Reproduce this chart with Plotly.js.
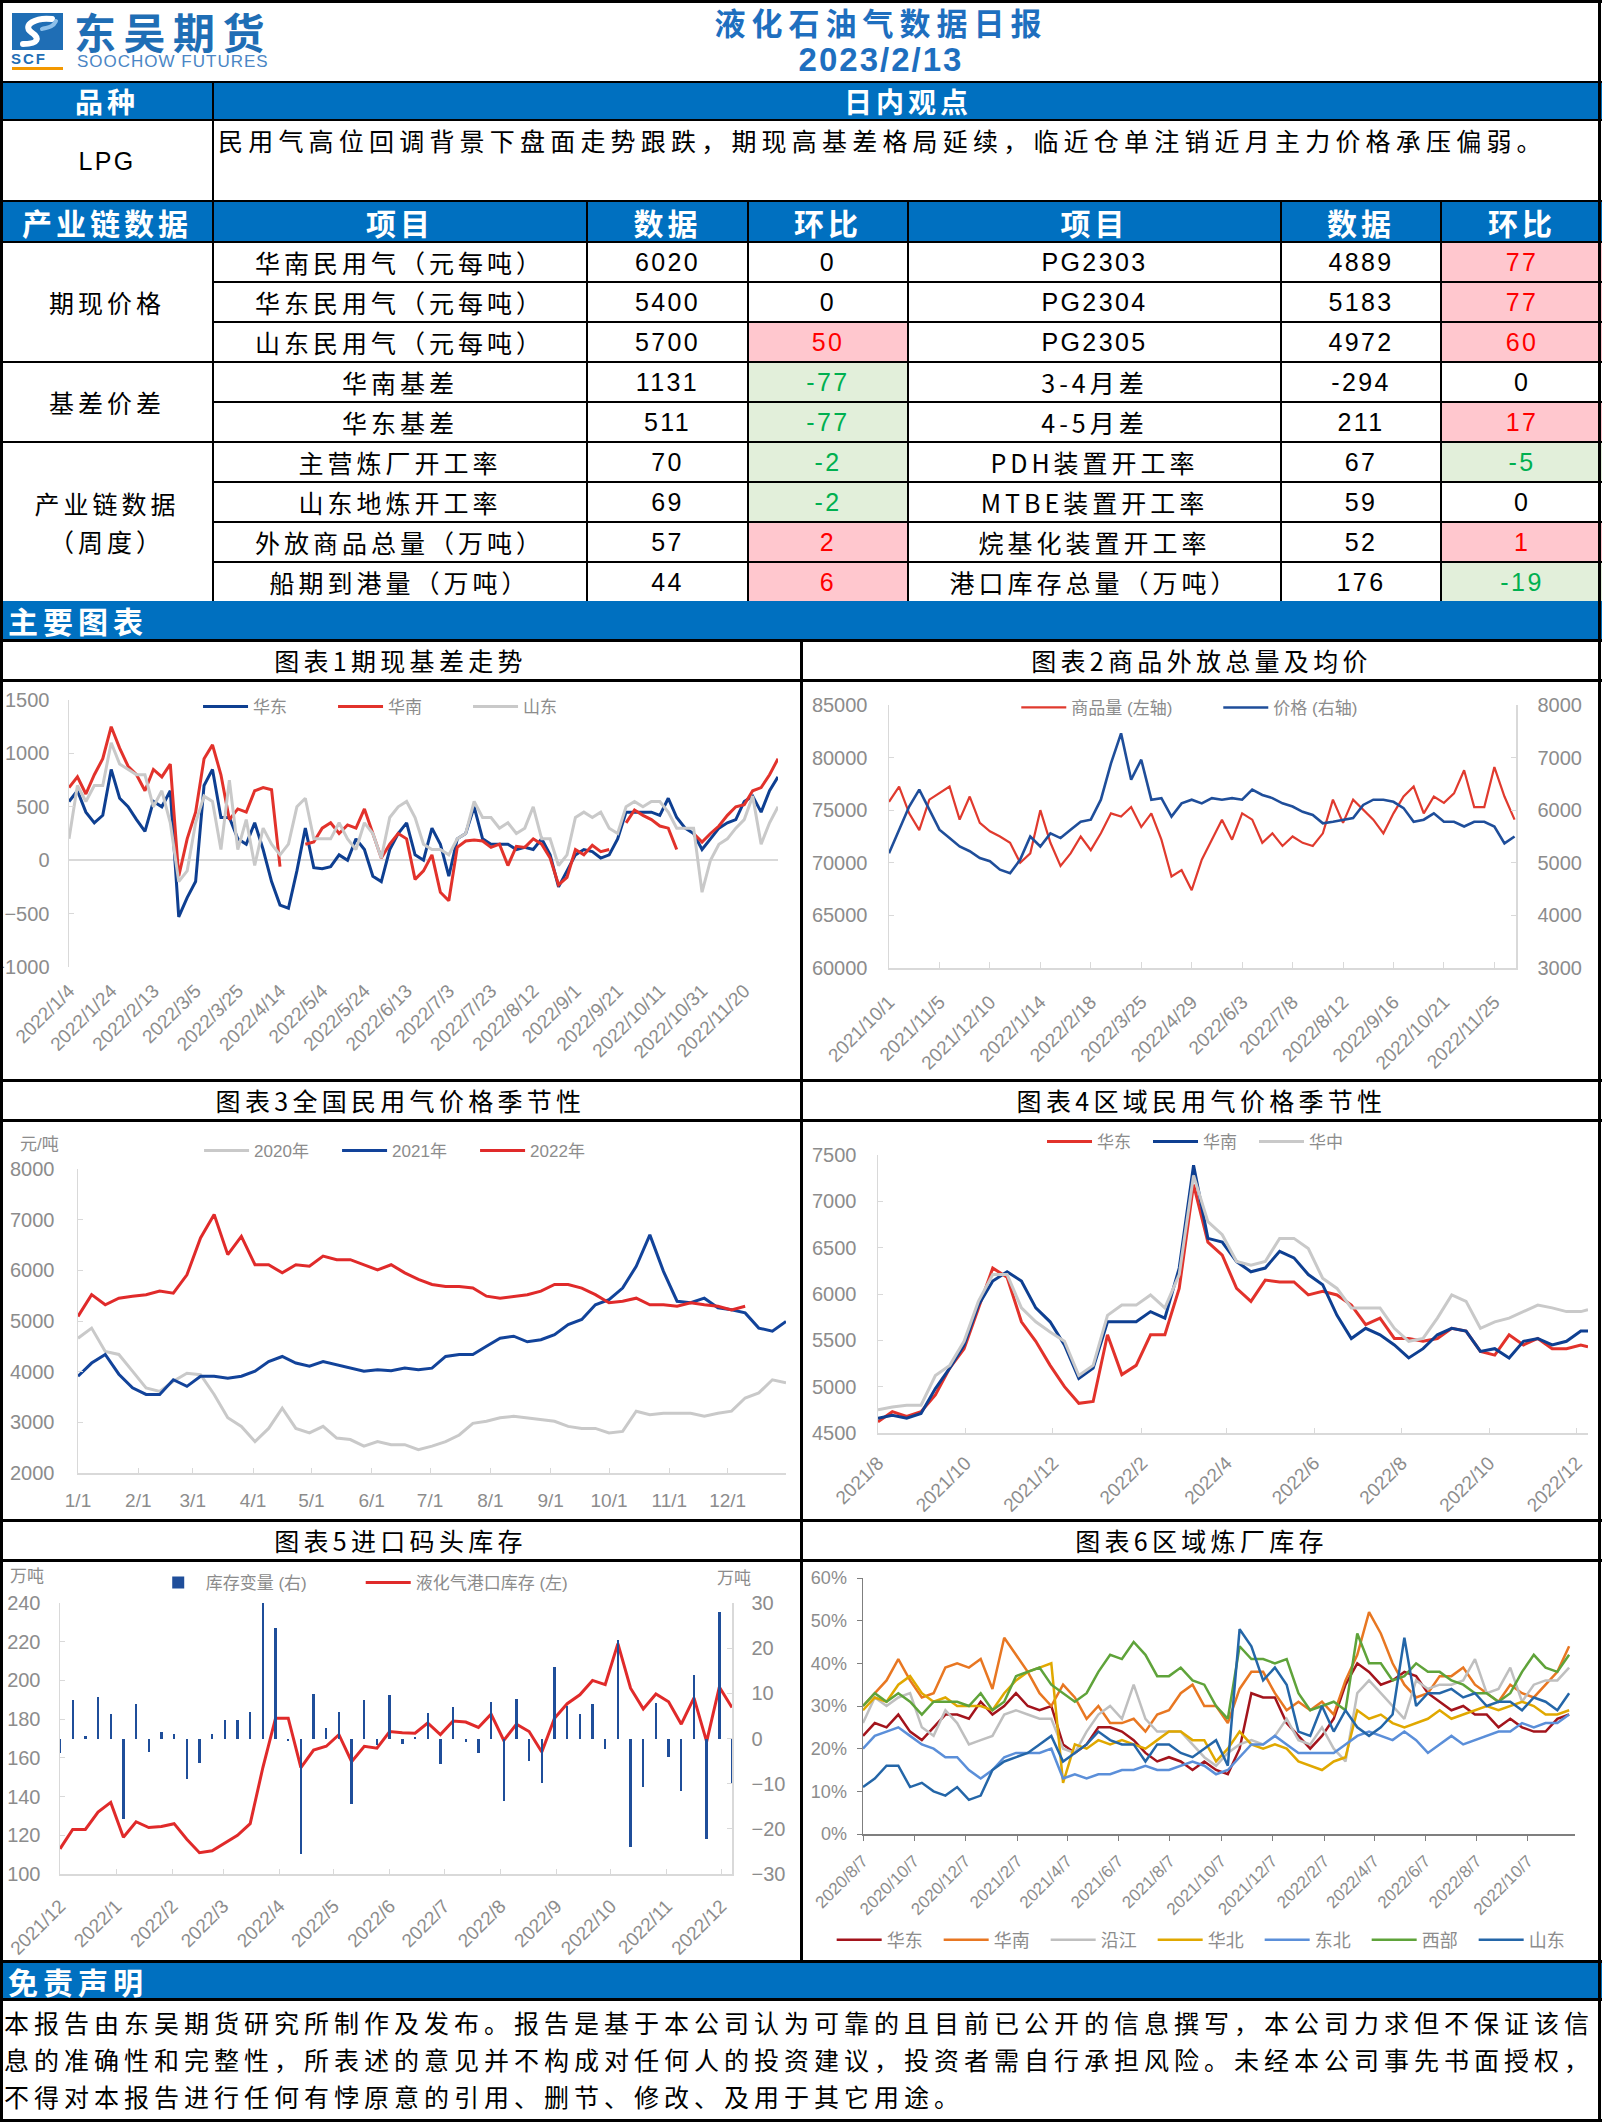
<!DOCTYPE html>
<html>
<head>
<meta charset="utf-8">
<script src="https://cdn.plot.ly/plotly-3.0.1.min.js"></script>
<style>
html,body{margin:0;padding:0;background:#fff;}
#page{position:relative;width:1602px;height:2122px;overflow:hidden;font-family:"Noto Sans CJK SC","Liberation Sans",sans-serif;color:#000;}
.a{position:absolute;box-sizing:border-box;}
.hl{position:absolute;left:0;width:1602px;height:3px;background:#000;z-index:5;}
.vl{position:absolute;width:3px;background:#000;z-index:5;}
.bar{position:absolute;left:0;width:1602px;background:#0070C0;color:#fff;font-weight:bold;font-size:30px;letter-spacing:5px;padding-left:8px;box-sizing:border-box;}
.ctitle{position:absolute;height:40px;line-height:40px;text-align:center;font-size:25px;letter-spacing:4.3px;}
.chart{position:absolute;}
#tbl{position:absolute;left:0;top:81px;width:1602px;border-collapse:collapse;table-layout:fixed;}
#tbl td{border:2px solid #000;padding:0;text-align:center;font-size:25px;letter-spacing:4px;overflow:hidden;white-space:nowrap;line-height:30px;}
#tbl tr.h td{background:#0070C0;color:#fff;font-weight:bold;font-size:30px;letter-spacing:4px;line-height:32px;}
#tbl tr.h0 td{background:#0070C0;color:#fff;font-weight:bold;font-size:28px;letter-spacing:4px;line-height:30px;}
#tbl td.num{font-family:"Liberation Sans",sans-serif;letter-spacing:2.4px;font-size:25px;}
.disc{position:absolute;left:4px;width:1594px;font-size:25px;letter-spacing:5px;white-space:nowrap;}
</style>
</head>
<body>
<div id="page">
  <!-- header -->
  <svg class="a" style="left:12px;top:13px" width="51" height="37" viewBox="0 0 51 37">
    <rect x="0" y="0" width="51" height="37" fill="#1F6EB5"/>
    <path d="M40 6 C24 4 10 12 19 19 C28 25 27 31 11 31" stroke="#fff" stroke-width="6" fill="none" stroke-linecap="round"/>
    <path d="M44 8 C40 16 34 14 30 16" stroke="#8EC0EA" stroke-width="4" fill="none" stroke-linecap="round"/>
  </svg>
  <div class="a" style="left:11px;top:51px;font-family:'Liberation Sans';font-weight:bold;font-size:15px;color:#1F6EB5;letter-spacing:2px;line-height:16px">SCF</div>
  <div class="a" style="left:12px;top:67px;width:51px;height:3px;background:#F39800"></div>
  <div class="a" style="left:74px;top:11px;font-size:42px;font-weight:bold;color:#1F6EB5;letter-spacing:7.5px;line-height:40px">东吴期货</div>
  <div class="a" style="left:77px;top:53px;font-family:'Liberation Sans';font-size:17px;color:#4A86C5;letter-spacing:1px;line-height:17px">SOOCHOW FUTURES</div>
  <div class="a" id="title" style="left:500px;width:762px;top:4px;text-align:center;font-size:31px;font-weight:bold;color:#1E6FBF;letter-spacing:6px;line-height:36px"></div>
  <div class="a" id="date" style="left:500px;width:762px;top:42px;text-align:center;font-family:'Liberation Sans';font-size:33px;font-weight:bold;color:#1E6FBF;letter-spacing:2px;line-height:36px"></div>

  <table id="tbl"></table>

  <div class="bar" style="top:601px;height:39px;line-height:39px">主要图表</div>
  <div class="ctitle" id="t1" style="left:0;width:801px;top:640px"></div>
  <div class="ctitle" id="t2" style="left:801px;width:801px;top:640px"></div>
  <div class="ctitle" id="t3" style="left:0;width:801px;top:1080px"></div>
  <div class="ctitle" id="t4" style="left:801px;width:801px;top:1080px"></div>
  <div class="ctitle" id="t5" style="left:0;width:801px;top:1520px"></div>
  <div class="ctitle" id="t6" style="left:801px;width:801px;top:1520px"></div>

  <div class="chart" id="c1" style="left:2px;top:680px"></div>
  <div class="chart" id="c2" style="left:802px;top:680px"></div>
  <div class="chart" id="c3" style="left:2px;top:1120px"></div>
  <div class="chart" id="c4" style="left:802px;top:1120px"></div>
  <div class="chart" id="c5" style="left:2px;top:1560px"></div>
  <div class="chart" id="c6" style="left:802px;top:1560px"></div>
  <div class="a" style="left:10px;top:1562px;font-size:17px;color:#8c8c8c">万吨</div>
  <div class="a" style="left:717px;top:1564px;font-size:17px;color:#8c8c8c">万吨</div>

  <div class="bar" style="top:1962px;height:38px;line-height:38px">免责声明</div>
  <div id="disc"></div>

  <!-- frame lines -->
  <div class="hl" style="top:0"></div>
  <div class="hl" style="top:639px"></div>
  <div class="hl" style="top:679px"></div>
  <div class="hl" style="top:1079px"></div>
  <div class="hl" style="top:1119px"></div>
  <div class="hl" style="top:1519px"></div>
  <div class="hl" style="top:1559px"></div>
  <div class="hl" style="top:1960px"></div>
  <div class="hl" style="top:1998px"></div>
  <div class="hl" style="top:2119px"></div>
  <div class="vl" style="left:0;top:0;height:2122px"></div>
  <div class="vl" style="left:1598px;top:0;height:2122px"></div>
  <div class="vl" style="left:800px;top:639px;height:1323px"></div>
</div>

<script>
// ---------- text / table data ----------
const reportTitle = '液化石油气数据日报';
const reportDate = '2023/2/13';
const viewText = '民用气高位回调背景下盘面走势跟跌，期现高基差格局延续，临近仓单注销近月主力价格承压偏弱。';
const tableHeaders = ['产业链数据','项目','数据','环比','项目','数据','环比'];
const groupNames = ['期现价格','基差价差','产业链数据<br>（周度）'];
const groupSpans = [3,2,4];
const leftItems = ['华南民用气（元每吨）','华东民用气（元每吨）','山东民用气（元每吨）','华南基差','华东基差','主营炼厂开工率','山东地炼开工率','外放商品总量（万吨）','船期到港量（万吨）'];
const leftValues = [6020,5400,5700,1131,511,70,69,57,44];
const leftChanges = [0,0,50,-77,-77,-2,-2,2,6];
const rightItems = ['PG2303','PG2304','PG2305','3-4月差','4-5月差','PDH装置开工率','MTBE装置开工率','烷基化装置开工率','港口库存总量（万吨）'];
const rightValues = [4889,5183,4972,-294,211,67,59,52,176];
const rightChanges = [77,77,60,0,17,-5,0,1,-19];
const chartTitles = ['图表1期现基差走势','图表2商品外放总量及均价','图表3全国民用气价格季节性','图表4区域民用气价格季节性','图表5进口码头库存','图表6区域炼厂库存'];
const disclaimerLines = [
 '本报告由东吴期货研究所制作及发布。报告是基于本公司认为可靠的且目前已公开的信息撰写，本公司力求但不保证该信',
 '息的准确性和完整性，所表述的意见并不构成对任何人的投资建议，投资者需自行承担风险。未经本公司事先书面授权，',
 '不得对本报告进行任何有悖原意的引用、删节、修改、及用于其它用途。'
];

// ---------- chart 1 ----------
const c1Dates = ['2022-01-04','2022-01-08','2022-01-12','2022-01-16','2022-01-20','2022-01-24','2022-01-28','2022-02-01','2022-02-05','2022-02-09',
'2022-02-13','2022-02-17','2022-02-21','2022-02-25','2022-03-01','2022-03-05','2022-03-09','2022-03-13','2022-03-17','2022-03-21',
'2022-03-25','2022-03-29','2022-04-02','2022-04-06','2022-04-10','2022-04-14','2022-04-18','2022-04-22','2022-04-26','2022-04-30',
'2022-05-04','2022-05-08','2022-05-12','2022-05-16','2022-05-20','2022-05-24','2022-05-28','2022-06-01','2022-06-05','2022-06-09',
'2022-06-13','2022-06-17','2022-06-21','2022-06-25','2022-06-29','2022-07-03','2022-07-07','2022-07-11','2022-07-15','2022-07-19',
'2022-07-23','2022-07-27','2022-07-31','2022-08-04','2022-08-08','2022-08-12','2022-08-16','2022-08-20','2022-08-24','2022-08-28',
'2022-09-01','2022-09-05','2022-09-09','2022-09-13','2022-09-17','2022-09-21','2022-09-25','2022-09-29','2022-10-03','2022-10-07',
'2022-10-11','2022-10-15','2022-10-19','2022-10-23','2022-10-27','2022-10-31','2022-11-04','2022-11-08','2022-11-12','2022-11-16',
'2022-11-20','2022-11-24','2022-11-28','2022-12-02','2022-12-06'];
const c1East = [550,650,450,350,420,850,580,500,380,270,
550,500,650,-530,-350,-200,700,850,400,400,
200,150,350,100,-200,-420,-450,-100,300,-70,
-80,-60,50,0,200,100,-150,-200,100,250,
350,50,0,300,150,-150,200,250,500,200,
150,150,150,100,120,100,200,50,-250,-100,
50,100,80,20,50,200,450,450,450,450,
420,580,400,300,250,100,200,300,350,380,
550,600,450,650,780];
const c1South = [680,780,620,800,950,1250,1050,880,800,650,
850,780,900,-150,200,450,950,1080,800,380,
480,450,650,680,660,-60,null,null,150,170,
300,350,250,330,300,480,250,20,150,250,
200,-180,-100,50,-300,-380,120,180,190,180,
120,150,-50,130,120,200,150,20,-230,-160,
100,50,140,80,100,null,350,470,420,380,
320,300,100,null,250,170,250,320,420,500,
520,650,680,800,950];
const c1Shandong = [200,700,550,700,700,1100,900,850,800,800,
500,650,350,-200,-100,350,600,550,100,750,
100,380,-50,300,150,50,150,500,580,200,
200,200,350,200,100,350,250,20,400,500,
550,400,150,100,100,50,200,250,550,400,
400,300,350,250,300,500,200,200,-50,50,
400,450,400,450,300,250,500,550,500,550,
550,450,300,300,300,-300,0,150,200,300,
380,600,150,350,500];

// ---------- chart 2 ----------
const c2Dates = ['2021-10-01','2021-10-08','2021-10-15','2021-10-22','2021-10-29','2021-11-05','2021-11-12','2021-11-19','2021-11-26','2021-12-03',
'2021-12-10','2021-12-17','2021-12-24','2021-12-31','2022-01-07','2022-01-14','2022-01-21','2022-01-28','2022-02-04','2022-02-11',
'2022-02-18','2022-02-25','2022-03-04','2022-03-11','2022-03-18','2022-03-25','2022-04-01','2022-04-08','2022-04-15','2022-04-22',
'2022-04-29','2022-05-06','2022-05-13','2022-05-20','2022-05-27','2022-06-03','2022-06-10','2022-06-17','2022-06-24','2022-07-01',
'2022-07-08','2022-07-15','2022-07-22','2022-07-29','2022-08-05','2022-08-12','2022-08-19','2022-08-26','2022-09-02','2022-09-09',
'2022-09-16','2022-09-23','2022-09-30','2022-10-07','2022-10-14','2022-10-21','2022-10-28','2022-11-04','2022-11-11','2022-11-18',
'2022-11-25','2022-12-02','2022-12-09'];
const c2Volume = [75800,77250,74700,73100,76000,76600,77250,74100,76300,73800,
73000,72500,71900,70000,70900,75000,71900,69700,70900,72500,
71200,72800,74700,74400,75300,73400,74700,72200,68700,69300,
67400,70300,72200,74100,72200,74700,74100,71900,72800,71600,
72500,71900,71600,72800,76000,73800,76000,75000,74100,72800,
74700,76300,77250,74700,76300,75700,76600,78800,75300,75300,
79100,76300,74100];
const c2Price = [5180,5630,6070,6390,6000,5630,5470,5310,5220,5090,
5030,4870,4800,5060,5500,5310,5560,5470,5630,5780,
5820,6200,6890,7460,6580,6960,6200,6230,5880,6130,
6200,6130,6230,6200,6230,6200,6390,6290,6230,6130,
6070,5970,5910,5750,5780,5820,5850,6100,6200,6200,
6160,6040,5780,5820,5940,5780,5780,5690,5780,5780,
5690,5370,5500];

// ---------- chart 3 (seasonal: month-day) ----------
const c3MonthDay = ['01-01','01-08','01-15','01-22','01-29','02-05','02-12','02-19','02-26','03-05',
'03-12','03-19','03-26','04-02','04-09','04-16','04-23','04-30','05-07','05-14',
'05-21','05-28','06-04','06-11','06-18','06-25','07-02','07-09','07-16','07-23',
'07-30','08-06','08-13','08-20','08-27','09-03','09-10','09-17','09-24','10-01',
'10-08','10-15','10-22','10-29','11-05','11-12','11-19','11-26','12-03','12-10',
'12-17','12-24','12-31'];
const c3Y2020 = [4660,4860,4400,4340,4010,3680,3610,3810,3970,3940,
3550,3090,2920,2620,2880,3280,2880,2790,2920,2690,
2660,2530,2620,2560,2560,2460,2530,2620,2750,2980,
3020,3090,3120,3090,3050,3020,2920,2880,2880,2790,
2820,3220,3150,3180,3180,3180,3120,3180,3220,3480,
3580,3840,3780];
const c3Y2021 = [3910,4170,4340,3950,3680,3550,3550,3840,3710,3910,
3910,3870,3910,4010,4200,4300,4170,4110,4200,4140,
4070,4010,4040,4020,4070,4040,4070,4300,4340,4340,
4500,4660,4700,4590,4630,4730,4930,5030,5320,5420,
5650,6080,6700,5980,5390,5360,5450,5260,5220,5160,
4860,4800,4990];
const c3Y2022 = [5090,5520,5320,5450,5490,5520,5590,5550,5910,6640,
7100,6310,6670,6110,6110,5950,6110,6080,6280,6210,
6210,6110,6010,6110,5950,5820,5720,5680,5680,5650,
5490,5450,5490,5520,5590,5720,5720,5650,5520,5360,
5390,5450,5320,5320,5290,5360,5320,5290,5220,5290];

// ---------- chart 4 ----------
const c4Dates = ['2021-08-01','2021-08-11','2021-08-21','2021-08-31','2021-09-10','2021-09-20','2021-09-30','2021-10-10','2021-10-20','2021-10-30',
'2021-11-09','2021-11-19','2021-11-29','2021-12-09','2021-12-19','2021-12-29','2022-01-08','2022-01-18','2022-01-28','2022-02-07',
'2022-02-17','2022-02-27','2022-03-09','2022-03-19','2022-03-29','2022-04-08','2022-04-18','2022-04-28','2022-05-08','2022-05-18',
'2022-05-28','2022-06-07','2022-06-17','2022-06-27','2022-07-07','2022-07-17','2022-07-27','2022-08-06','2022-08-16','2022-08-26',
'2022-09-05','2022-09-15','2022-09-25','2022-10-05','2022-10-15','2022-10-25','2022-11-04','2022-11-14','2022-11-24','2022-12-04',
'2022-12-09'];
const c4East = [4620,4730,4680,4730,4910,5200,5410,5850,6280,6180,
5700,5490,5230,5000,4820,4840,5560,5130,5230,5560,
5560,6060,7180,6560,6420,6060,5920,6150,6130,6130,
5990,6030,5990,5880,5670,5740,5520,5520,5490,5520,
5630,5600,5380,5340,5560,5450,5520,5410,5410,5450,
5430];
const c4South = [4660,4690,4660,4710,4980,5200,5450,5880,6140,6240,
6140,5850,5700,5450,5090,5200,5700,5700,5700,5810,
5740,6280,7390,6600,6560,6350,6240,6280,6460,6390,
6210,6100,5770,5520,5630,5560,5450,5310,5410,5560,
5630,5600,5380,5410,5310,5490,5520,5450,5490,5600,
5600];
const c4Central = [4750,4780,4800,4800,5120,5230,5490,5920,6210,6210,
5850,5700,5590,5490,5120,5230,5770,5880,5880,5990,
5850,6210,7280,6780,6640,6350,6310,6350,6600,6600,
6490,6170,6060,5850,5850,5850,5630,5490,5520,5740,
5990,5920,5630,5700,5740,5810,5880,5850,5810,5810,
5830];

// ---------- chart 5 ----------
const c5Dates = ['2021-12-01','2021-12-08','2021-12-15','2021-12-22','2021-12-29','2022-01-05','2022-01-12','2022-01-19','2022-01-26','2022-02-02',
'2022-02-09','2022-02-16','2022-02-23','2022-03-02','2022-03-09','2022-03-16','2022-03-23','2022-03-30','2022-04-06','2022-04-13',
'2022-04-20','2022-04-27','2022-05-04','2022-05-11','2022-05-18','2022-05-25','2022-06-01','2022-06-08','2022-06-15','2022-06-22',
'2022-06-29','2022-07-06','2022-07-13','2022-07-20','2022-07-27','2022-08-03','2022-08-10','2022-08-17','2022-08-24','2022-08-31',
'2022-09-07','2022-09-14','2022-09-21','2022-09-28','2022-10-05','2022-10-12','2022-10-19','2022-10-26','2022-11-02','2022-11-09',
'2022-11-16','2022-11-23','2022-11-30','2022-12-07'];
const c5Stock = [113,123,123,132,137,119,127,124,124.5,126,
118,111,112,116,120,126,155,180.5,180.5,155,
164,166,172,158,166,165,173.6,173,172.7,178,
172,179,178.5,175.7,182.6,169,177.4,173.6,163,180.5,
188,192.6,200,197.8,219,196,185.3,193,189,177.4,
191,168.4,196.6,186];
const c5Change = [-3.3,8.6,0.5,9.1,5.4,-17.9,7.6,-3,1.4,1.1,
-9,-5.5,1,4.2,4.1,5.9,30,24.5,-0.5,-25.6,
9.9,2.3,5.9,-14.6,8.6,-1.5,9.7,-1.2,0.3,5.6,
-5.7,6.9,-0.8,-3.3,8.1,-13.9,8.7,-5,-9.9,15.8,
7.1,5.4,7.6,-2.3,21.7,-24,-10.7,7.9,-4.2,-11.6,
14,-22.3,28,-10.1];

// ---------- chart 6 ----------
const c6Dates = ['2020-08-07','2020-08-21','2020-09-04','2020-09-18','2020-10-02','2020-10-16','2020-10-30','2020-11-13','2020-11-27','2020-12-11',
'2020-12-25','2021-01-08','2021-01-22','2021-02-05','2021-02-19','2021-03-05','2021-03-19','2021-04-02','2021-04-16','2021-04-30',
'2021-05-14','2021-05-28','2021-06-11','2021-06-25','2021-07-09','2021-07-23','2021-08-06','2021-08-20','2021-09-03','2021-09-17',
'2021-10-01','2021-10-15','2021-10-29','2021-11-12','2021-11-26','2021-12-10','2021-12-24','2022-01-07','2022-01-21','2022-02-04',
'2022-02-18','2022-03-04','2022-03-18','2022-04-01','2022-04-15','2022-04-29','2022-05-13','2022-05-27','2022-06-10','2022-06-24',
'2022-07-08','2022-07-22','2022-08-05','2022-08-19','2022-09-02','2022-09-16','2022-09-30','2022-10-14','2022-10-28','2022-11-11',
'2022-11-25'];
const c6Names = ['华东','华南','沿江','华北','东北','西部','山东'];
const c6East = [23,26,25,28,24,22,25,28,28,27,31,28,30,33,30,29,30,21,19,21,25,25,24,22,19,17,18,17,15,17,15,14,20,33,32,32,26,23,20,23,27,35,40,38,35,36,38,37,33,31,29,30,28,28,25,27,25,24,24,27,28];
const c6South = [30,33,36,41,36,32,33,39,40,39,41,34,46,42,38,33,30,35,32,27,30,26,26,27,24,28,29,33,35,30,30,26,34,38,38,33,29,31,29,31,28,36,42,52,47,40,35,32,33,37,37,39,35,33,31,35,33,32,35,38,44];
const c6River = [26,32,30,32,33,25,23,29,26,21,22,23,28,29,28,27,27,20,19,24,28,30,27,35,27,24,24,24,21,18,16,19,21,22,21,23,27,22,21,25,20,17,33,36,33,30,27,36,34,35,35,36,41,33,34,39,31,35,36,36,39];
const c6North = [29,32,31,35,37,33,31,32,30,30,30,29,33,36,38,39,40,12,21,20,22,21,22,21,20,22,24,24,22,22,17,20,24,21,20,21,20,17,16,15,17,18,29,27,28,26,25,26,27,29,27,28,29,30,29,30,31,30,28,28,29];
const c6NorthEast = [20,23,24,25,23,21,20,18,18,15,13,15,18,19,19,19,20,13,14,13,14,14,15,15,16,15,15,16,17,16,14,15,18,21,21,23,21,19,19,19,19,21,23,24,23,22,24,22,19,21,23,21,22,23,24,24,26,25,26,26,28];
const c6West = [30,33,31,33,31,28,31,31,31,30,33,29,31,37,38,39,35,33,31,33,38,42,41,45,42,37,37,39,36,35,30,27,44,41,41,40,41,33,29,30,31,29,47,40,40,36,37,40,38,38,36,35,33,33,31,33,38,42,39,38,42];
const c6Shandong = [11,13,16,16,11,12,10,9,11,8,9,15,17,18,19,21,23,17,19,21,24,22,21,21,17,21,21,19,18,20,22,16,48,44,36,39,35,24,23,30,24,29,25,23,25,28,46,30,33,33,34,32,33,30,31,31,29,32,31,29,33];

// ---------- build text parts ----------
document.getElementById('title').textContent = reportTitle;
document.getElementById('date').textContent = reportDate;
chartTitles.forEach((t,i)=>{document.getElementById('t'+(i+1)).textContent=t;});
document.getElementById('disc').innerHTML = disclaimerLines.map((l,i)=>
  `<div class="disc" style="top:${2004+i*37}px">${l}</div>`).join('');

const colW = [212,374,161,160,373,160,162];
const isAscii = s => /^[\x00-\x7F]+$/.test(String(s));
function chg(v){
  let bg='#fff', c='#000';
  if(v>0){bg='#FFC7CE';c='#FF0000';}
  else if(v<0){bg='#E2EFDA';c='#00B050';}
  return `<td class="num" style="background:${bg};color:${c}">${v}</td>`;
}
function item(t){ return `<td${isAscii(t)?' class="num"':''}>${t}</td>`; }
let h = '<colgroup>'+colW.map(w=>`<col style="width:${w}px">`).join('')+'</colgroup>';
h += `<tr class="h0" style="height:38px"><td>品种</td><td colspan="6">日内观点</td></tr>`;
h += `<tr style="height:81px"><td class="num" style="font-size:25px">LPG</td><td colspan="6" style="text-align:left;vertical-align:top;padding:4px 0 0 4px;letter-spacing:5.2px;font-size:25px;line-height:30px">${viewText}</td></tr>`;
h += `<tr class="h" style="height:41px">${tableHeaders.map(t=>`<td>${t}</td>`).join('')}</tr>`;
let r = 0;
groupNames.forEach((g,gi)=>{
  for(let i=0;i<groupSpans[gi];i++){
    let row = '<tr style="height:40px">';
    if(i===0) row += `<td rowspan="${groupSpans[gi]}" style="line-height:38px">${g}</td>`;
    row += item(leftItems[r]) + `<td class="num">${leftValues[r]}</td>` + chg(leftChanges[r]);
    row += item(rightItems[r]) + `<td class="num">${rightValues[r]}</td>` + chg(rightChanges[r]);
    h += row + '</tr>';
    r++;
  }
});
document.getElementById('tbl').innerHTML = h;

// ---------- charts ----------
const TC = '#8c8c8c', AXC = '#d9d9d9';
const TF = 'Liberation Sans, Noto Sans CJK SC, sans-serif';
const DAY = 86400000;
const cfg = {staticPlot:true, displayModeBar:false};
function ax(o){ return Object.assign({showgrid:false, zeroline:false, showline:true, linecolor:AXC, linewidth:1.5,
  ticks:'inside', ticklen:5, tickcolor:AXC, tickfont:{family:TF,size:20,color:TC}}, o); }
function lg(o){ return Object.assign({orientation:'h', xanchor:'left', yanchor:'middle', font:{family:TF,size:17,color:TC},
  bgcolor:'rgba(0,0,0,0)', itemwidth:45, entrywidthmode:'pixels'}, o); }
function base(w,h,m){ return {width:w,height:h,margin:Object.assign({autoexpand:false},m),
  paper_bgcolor:'rgba(0,0,0,0)',plot_bgcolor:'rgba(0,0,0,0)',font:{family:TF,size:17,color:TC},showlegend:true}; }
const ln = (x,y,name,color,width,extra) => Object.assign({type:'scatter',mode:'lines',x,y,name,line:{color,width},connectgaps:false},extra||{});
const XF = {family:TF,size:19,color:TC};

// chart 1
Plotly.newPlot('c1', [
  ln(c1Dates,c1East,'华东','#0E3F91',3),
  ln(c1Dates,c1South,'华南','#E2322B',3),
  ln(c1Dates,c1Shandong,'山东','#C9C9C9',3)
], Object.assign(base(798,398,{l:67,r:22,t:20,b:111}),{
  xaxis: ax({type:'date',range:['2022-01-04','2022-12-06'],tick0:'2022-01-04',dtick:20*DAY,tickformat:'%Y/%-m/%-d',
    tickangle:-45,showline:false,ticks:'',tickfont:XF,ticklabelstandoff:8}),
  yaxis: ax({range:[-1000,1500],dtick:500,zeroline:true,zerolinecolor:AXC,zerolinewidth:2,ticklabelstandoff:14}),
  legend: lg({x:0.182,y:0.974,entrywidth:75})
}), cfg);

// chart 2
Plotly.newPlot('c2', [
  ln(c2Dates,c2Volume,'商品量 (左轴)','#E03A2E',2.2),
  ln(c2Dates,c2Price,'价格 (右轴)','#1F4E9A',2.6,{yaxis:'y2'})
], Object.assign(base(797,398,{l:87,r:83,t:25,b:110}),{
  xaxis: ax({type:'date',range:['2021-10-01','2022-12-10'],tick0:'2021-10-01',dtick:35*DAY,tickformat:'%Y/%-m/%-d',
    tickangle:-45,tickfont:XF,ticklabelstandoff:14,ticklen:6}),
  yaxis: ax({range:[60000,85000],dtick:5000,tickformat:'d',ticklabelstandoff:16}),
  yaxis2: ax({range:[3000,8000],dtick:1000,tickformat:'d',overlaying:'y',side:'right',ticklabelstandoff:16}),
  legend: lg({x:0.203,y:0.989,entrywidth:142})
}), cfg);

// chart 3
const c3X = c3MonthDay.map(d=>'2021-'+d);
Plotly.newPlot('c3', [
  ln(c3X,c3Y2020,'2020年','#C9C9C9',3),
  ln(c3X,c3Y2021,'2021年','#12439A',3),
  ln(c3X.slice(0,c3Y2022.length),c3Y2022,'2022年','#E02A2A',3)
], Object.assign(base(798,398,{l:76,r:14,t:49,b:45}),{
  xaxis: ax({type:'date',range:['2021-01-01','2021-12-31'],tick0:'2021-01-01',dtick:'M1',tickformat:'%-m/%-d',
    tickangle:0,ticklabelstandoff:10,tickfont:XF}),
  yaxis: ax({range:[2000,8000],dtick:1000,ticklabelstandoff:18}),
  legend: lg({x:0.171,y:1.059,entrywidth:78}),
  annotations:[{text:'元/吨',xref:'paper',yref:'paper',x:-0.085,y:1.079,xanchor:'left',yanchor:'middle',showarrow:false,
    font:{family:TF,size:17,color:TC}}]
}), cfg);

// chart 4
Plotly.newPlot('c4', [
  ln(c4Dates,c4East,'华东','#E2322B',3),
  ln(c4Dates,c4South,'华南','#0E3F91',3),
  ln(c4Dates,c4Central,'华中','#C9C9C9',3)
], Object.assign(base(797,398,{l:76,r:11,t:35,b:85}),{
  xaxis: ax({type:'date',range:['2021-08-01','2022-12-09'],tick0:'2021-08-01',dtick:'M2',tickformat:'%Y/%-m',
    tickangle:-45,tickfont:XF,ticklabelstandoff:10}),
  yaxis: ax({range:[4500,7500],dtick:500,ticklabelstandoff:16}),
  legend: lg({x:0.231,y:1.047,entrywidth:46})
}), cfg);

// chart 5
Plotly.newPlot('c5', [
  {type:'bar',x:c5Dates,y:c5Change,name:'库存变量 (右)',yaxis:'y2',width:1.3*DAY,marker:{color:'#1F4E9A',line:{width:0}}},
  ln(c5Dates,c5Stock,'液化气港口库存 (左)','#E02A2A',3)
], Object.assign(base(798,400,{l:58,r:68,t:43,b:86}),{
  xaxis: ax({type:'date',range:['2021-12-01','2022-12-07'],tick0:'2021-12-01',dtick:'M1',tickformat:'%Y/%-m',
    tickangle:-45,tickfont:XF,ticklabelstandoff:12}),
  yaxis: ax({range:[100,240],dtick:20,ticklabelstandoff:14}),
  yaxis2: ax({range:[-30,30],dtick:10,overlaying:'y',side:'right',ticklabelstandoff:14}),
  legend: lg({x:0.135,y:1.074,entrywidth:150}),
  bargap:0
}), cfg);

// chart 6
const c6Series = [c6East,c6South,c6River,c6North,c6NorthEast,c6West,c6Shandong];
const c6Colors = ['#A3141C','#E87722','#BFBFBF','#E0A800','#5B8FD9','#5FA33A','#2466A8'];
Plotly.newPlot('c6', c6Series.map((s,i)=>ln(c6Dates,s,c6Names[i],c6Colors[i],2.5)),
  Object.assign(base(797,400,{l:61,r:24,t:18,b:126}),{
  xaxis: ax({type:'date',range:['2020-08-07','2022-12-02'],tick0:'2020-08-07',dtick:'M2',tickformat:'%Y/%-m/%-d',
    tickangle:-45,linecolor:'#7f7f7f',tickcolor:'#7f7f7f',ticks:'outside',tickfont:{family:TF,size:17,color:TC},ticklabelstandoff:4}),
  yaxis: ax({range:[0,60],dtick:10,ticksuffix:'%',linecolor:'#7f7f7f',tickcolor:'#7f7f7f',ticks:'outside',tickfont:{family:TF,size:18,color:TC},ticklabelstandoff:6}),
  legend: lg({x:-0.044,y:-0.414,entrywidth:47,font:{family:TF,size:18,color:TC}})
}), cfg);
</script>
</body>
</html>
